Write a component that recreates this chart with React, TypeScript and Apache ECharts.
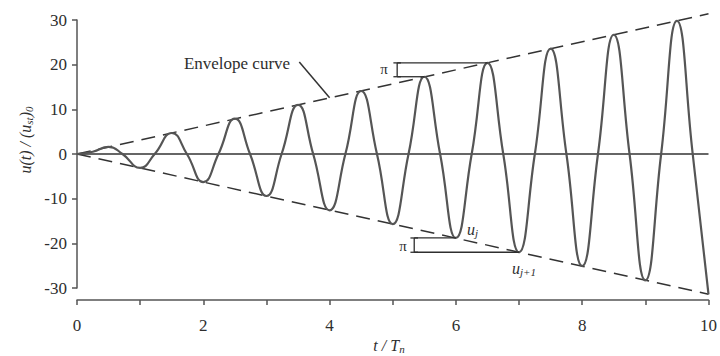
import React, { useEffect, useRef } from "react";
import * as echarts from "echarts";

// Response points: time (t/Tn) and u(t)/(ust)0
const tPoints = [0, 0.25, 0.5, 0.72, 1.0, 1.23, 1.5, 1.74, 2.0, 2.24, 2.5, 2.74, 3.0, 3.24, 3.5, 3.74, 4.0, 4.25, 4.5, 4.75, 5.0, 5.25, 5.5, 5.75, 6.0, 6.25, 6.5, 6.75, 7.0, 7.25, 7.5, 7.75, 8.0, 8.25, 8.5, 8.75, 9.0, 9.25, 9.5, 9.75, 10.0];
const uPoints = [0, 0.5, 1.6, 0, -3.1, 0, 4.7, 0, -6.3, 0, 7.9, 0, -9.4, 0, 11.0, 0, -12.6, 0, 14.1, 0, -15.7, 0, 17.3, 0, -18.8, 0, 20.4, 0, -22.0, 0, 23.6, 0, -25.1, 0, 26.7, 0, -28.3, 0, 29.8, 0, -31.4];

// Envelope end points
const envelopeT = [0, 10];
const envelopeUpper = [0, 31.4];
const envelopeLower = [0, -31.4];

// Annotation values
const topBracketT = 5.07;
const topPeaks: [number, number][] = [[6.5, 20.4], [5.5, 17.3]];
const botBracketT = 5.34;
const botPeaks: [number, number][] = [[6.0, -18.8], [7.0, -22.0]];
const leader: [number, number][] = [[3.52, 20.6], [4.0, 12.6]];

const xTicks = [0, 2, 4, 6, 8, 10];

const SERIF = "'Liberation Serif', 'DejaVu Serif', serif";
const INK = "#2e2e2e";
const CURVE = "#555555";

export default function App() {
  const ref = useRef<HTMLDivElement>(null);

  useEffect(() => {
    document.body.style.margin = "0";
    if (!ref.current) return;
    const chart = echarts.init(ref.current, undefined, { renderer: "svg" });

    const curve = tPoints.map((t, i) => [t, uPoints[i]]);
    const upper = envelopeT.map((t, i) => [t, envelopeUpper[i]]);
    const lower = envelopeT.map((t, i) => [t, envelopeLower[i]]);
    const zeroLine = [[0, 0], [10, 0]];

    const lineSeries = (data: number[][], extra: any = {}) => ({
      type: "line",
      data,
      showSymbol: false,
      symbol: "none",
      clip: false,
      silent: true,
      lineStyle: { color: INK, width: 1.3 },
      ...extra,
    });

    const cap = 0.06;
    const topLow = Math.min(topPeaks[0][1], topPeaks[1][1]);
    const topHigh = Math.max(topPeaks[0][1], topPeaks[1][1]);
    const botLow = Math.min(botPeaks[0][1], botPeaks[1][1]);
    const botHigh = Math.max(botPeaks[0][1], botPeaks[1][1]);

    const richItalic = {
      m: { fontFamily: SERIF, fontStyle: "italic", fontSize: 16, fill: INK, lineHeight: 18, verticalAlign: "middle" },
      s: { fontFamily: SERIF, fontStyle: "italic", fontSize: 11, fill: INK, lineHeight: 18, verticalAlign: "bottom" },
    };

    const option: any = {
      animation: false,
      grid: { left: 77, right: 10, top: 20, bottom: 68, containLabel: false },
      xAxis: {
        type: "value",
        min: 0,
        max: 10,
        interval: 1,
        offset: 12,
        axisLine: { show: true, onZero: false, lineStyle: { color: "#555", width: 1.5 } },
        axisTick: { show: true, length: 5, lineStyle: { color: "#555", width: 1.5 } },
        splitLine: { show: false },
        axisLabel: {
          margin: 17,
          fontFamily: SERIF,
          fontSize: 17,
          color: INK,
          formatter: (v: number) => (xTicks.includes(v) ? String(v) : ""),
        },
      },
      yAxis: {
        type: "value",
        min: -30,
        max: 30,
        interval: 10,
        axisLine: { show: true, onZero: false, lineStyle: { color: "#555", width: 1.5 } },
        axisTick: { show: true, length: 5, lineStyle: { color: "#555", width: 1.5 } },
        splitLine: { show: false },
        axisLabel: { margin: 10, fontFamily: SERIF, fontSize: 17, color: INK },
      },
      series: [
        lineSeries(zeroLine, { lineStyle: { color: "#333", width: 1.3 } }),
        lineSeries(upper, { lineStyle: { color: "#333", width: 1.5, type: [14, 8] } }),
        lineSeries(lower, { lineStyle: { color: "#333", width: 1.5, type: [14, 8] } }),
        lineSeries(curve, { smooth: 0.5, lineStyle: { color: CURVE, width: 2.2 } }),
        // top pi bracket
        lineSeries([[topBracketT, topPeaks[0][1]], topPeaks[0]]),
        lineSeries([[topBracketT, topPeaks[1][1]], topPeaks[1]]),
        lineSeries([[topBracketT, topLow], [topBracketT, topHigh]]),
        lineSeries([[topBracketT - cap, topLow], [topBracketT + cap, topLow]]),
        lineSeries([[topBracketT - cap, topHigh], [topBracketT + cap, topHigh]]),
        // bottom pi bracket
        lineSeries([[botBracketT, botPeaks[0][1]], botPeaks[0]]),
        lineSeries([[botBracketT, botPeaks[1][1]], botPeaks[1]]),
        lineSeries([[botBracketT, botLow], [botBracketT, botHigh]]),
        lineSeries([[botBracketT - cap, botLow], [botBracketT + cap, botLow]]),
        lineSeries([[botBracketT - cap, botHigh], [botBracketT + cap, botHigh]]),
        // envelope leader
        lineSeries(leader, { lineStyle: { color: "#333", width: 1.5 } }),
      ],
      graphic: [
        {
          type: "text",
          x: 237,
          y: 63,
          style: {
            text: "Envelope curve",
            fontFamily: SERIF,
            fontSize: 17,
            fill: INK,
            align: "center",
            verticalAlign: "middle",
          },
        },
        {
          type: "text",
          x: 384,
          y: 69,
          style: { text: "π", fontFamily: SERIF, fontSize: 15, fill: INK, align: "center", verticalAlign: "middle" },
        },
        {
          type: "text",
          x: 403,
          y: 246,
          style: { text: "π", fontFamily: SERIF, fontSize: 15, fill: INK, align: "center", verticalAlign: "middle" },
        },
        {
          type: "text",
          x: 467,
          y: 229,
          style: { text: "{m|u}{s|j}", fill: INK, align: "left", verticalAlign: "middle", rich: richItalic },
        },
        {
          type: "text",
          x: 512,
          y: 268,
          style: { text: "{m|u}{s|j+1}", fill: INK, align: "left", verticalAlign: "middle", rich: richItalic },
        },
        {
          type: "text",
          x: 389,
          y: 345,
          style: { text: "{m|t / T}{s|n}", fill: INK, align: "center", verticalAlign: "middle", rich: richItalic },
        },
        {
          type: "text",
          x: 25,
          y: 140,
          rotation: Math.PI / 2,
          style: {
            text: "{m|u(t) / (u}{s|st}{m|)}{s|0}",
            fill: INK,
            align: "center",
            verticalAlign: "middle",
            rich: richItalic,
          },
        },
      ],
    };

    chart.setOption(option);
    return () => chart.dispose();
  }, []);

  return (
    <div
      ref={ref}
      style={{ position: "absolute", left: 0, top: 0, width: 720, height: 356, background: "#fff" }}
    />
  );
}
